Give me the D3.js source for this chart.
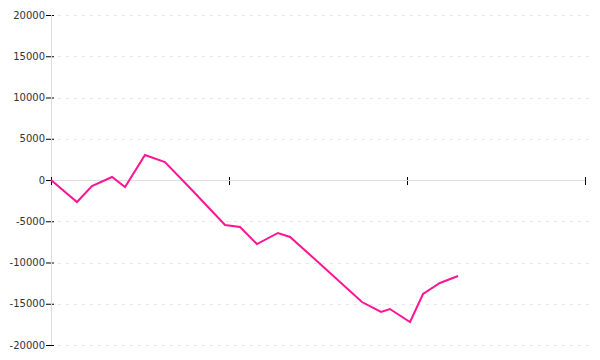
<!DOCTYPE html>
<html>
<head>
<meta charset="utf-8">
<script src="https://cdn.jsdelivr.net/npm/d3@7"></script>
<style>
  body { margin: 0; background: #fff; }
  .container svg { display: block; }
  .tick text { font-family: "DejaVu Sans", Verdana, sans-serif; font-size: 10px; fill: #333; }
</style>
</head>
<body>
<div class="container"></div>
<script>
// x positions (period units, one tick per period) and y values
const xValues = [0, 0.146, 0.23, 0.343, 0.416, 0.528, 0.64, 0.781, 0.978, 1.062, 1.157, 1.275, 1.343, 1.5, 1.747, 1.854, 1.904, 2.017, 2.09, 2.185, 2.287];
const yValues = [0, -2670, -730, 360, -850, 3030, 2180, -970, -5450, -5700, -7760, -6420, -6910, -9940, -14790, -16000, -15640, -17210, -13820, -12480, -11640];
const xTicks = [0, 1, 2, 3];
const yTicks = [-20000, -15000, -10000, -5000, 0, 5000, 10000, 15000, 20000];

const width = 600;
const height = 360;
const margin = {top: 15, right: 15, bottom: 15, left: 51};

const svg = d3.select('.container').append('svg')
    .attr('width', width)
    .attr('height', height);

const x = d3.scaleLinear()
    .domain([0, 3])
    .range([margin.left, width - margin.right]);

const y = d3.scaleLinear()
    .domain([-20000, 20000])
    .range([height - margin.bottom, margin.top]);

// dashed grid
svg.append('g')
    .selectAll('line')
    .data(yTicks.filter(d => d !== 0))
    .enter()
    .append('line')
    .attr('x1', margin.left + 7)
    .attr('x2', width - 10)
    .attr('y1', d => Math.round(y(d)) + 0.5)
    .attr('y2', d => Math.round(y(d)) + 0.5)
    .attr('stroke', '#e6e6e6')
    .attr('stroke-dasharray', '3,5');

// y axis
const yAxis = svg.append('g')
    .attr('transform', `translate(${margin.left},0)`)
    .call(d3.axisLeft(y).tickValues(yTicks).tickSize(6).tickPadding(1).tickFormat(d => d));
yAxis.select('.domain').remove();
yAxis.selectAll('.tick line').attr('stroke', '#000').attr('x2', 3).attr('x1', -5);
yAxis.selectAll('.tick text').attr('x', -6);
yAxis.append('line')
    .attr('x1', 0.5).attr('x2', 0.5)
    .attr('y1', y(20000)).attr('y2', y(-20000))
    .attr('stroke', '#ddd');

// x axis at zero
const xAxis = svg.append('g')
    .attr('transform', `translate(0,${Math.round(y(0))})`)
    .call(d3.axisBottom(x).tickValues(xTicks).tickSize(0).tickFormat(''));
xAxis.select('.domain').remove();
xAxis.append('line')
    .attr('x1', x(0)).attr('x2', x(3))
    .attr('y1', 0.5).attr('y2', 0.5)
    .attr('stroke', '#ddd');
xAxis.selectAll('.tick line')
    .attr('stroke', '#000')
    .attr('y1', -3)
    .attr('y2', 5);

// series line
const data = xValues.map((d, i) => ({x: d, y: yValues[i]}));
const line = d3.line()
    .x(d => x(d.x))
    .y(d => y(d.y));

svg.append('path')
    .datum(data)
    .attr('d', line)
    .attr('fill', 'none')
    .attr('stroke', '#ff1493')
    .attr('stroke-width', 2);
</script>
</body>
</html>
